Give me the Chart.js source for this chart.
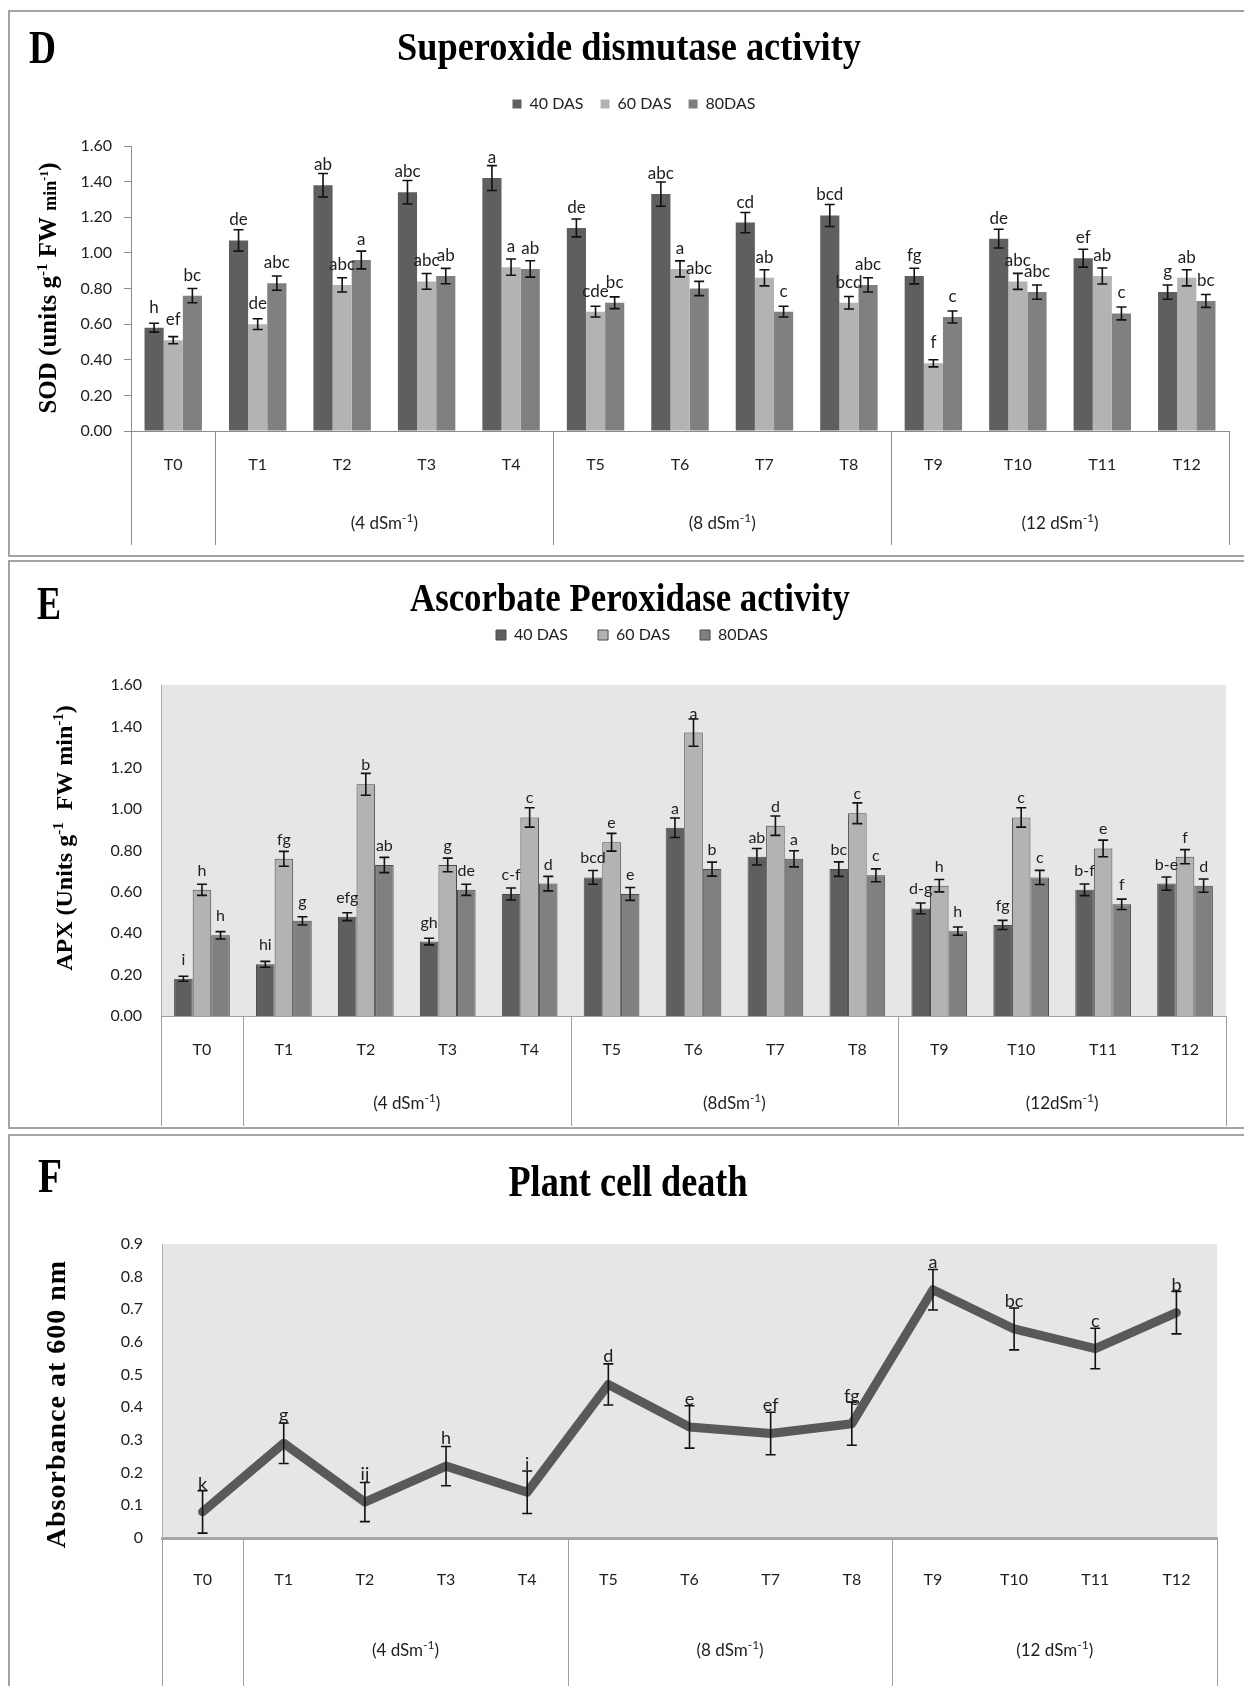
<!DOCTYPE html>
<html><head><meta charset="utf-8">
<script src="https://cdn.jsdelivr.net/npm/chart.js@4.4.1/dist/chart.umd.min.js"></script>
<style>
html,body{margin:0;padding:0;background:#fff;}
body{width:1244px;height:1686px;position:relative;overflow:hidden;}
.frame{position:absolute;border:2px solid #a3a3a3;box-sizing:border-box;}
canvas{position:absolute;left:0;}
</style></head><body>
<div class="frame" style="left:8px;top:10px;width:1240px;height:547px"></div>
<div class="frame" style="left:8px;top:560px;width:1240px;height:569px"></div>
<div class="frame" style="left:8px;top:1134px;width:1240px;height:570px"></div>
<canvas id="cD" width="1244" height="545" style="top:11px"></canvas>
<canvas id="cE" width="1244" height="566" style="top:562px"></canvas>
<canvas id="cF" width="1244" height="550" style="top:1136px"></canvas>
<script>
// ---------------- DATA ----------------
const categories = ['T0','T1','T2','T3','T4','T5','T6','T7','T8','T9','T10','T11','T12'];
const seriesNames = ['40 DAS','60 DAS','80DAS'];
const groupNamesD = ['(4 dSm','(8 dSm','(12 dSm'];
const groupNamesE = ['(4 dSm','(8dSm','(12dSm'];
const groupNamesF = ['(4 dSm','(8 dSm','(12 dSm'];
const groupSup = '-1';
const groupBounds = [0,1,5,9,13];

// Superoxide dismutase (SOD)
const sod40 = [0.58,1.07,1.38,1.34,1.42,1.14,1.33,1.17,1.21,0.87,1.08,0.97,0.78];
const sod60 = [0.51,0.60,0.82,0.84,0.92,0.67,0.91,0.86,0.72,0.38,0.84,0.87,0.86];
const sod80 = [0.76,0.83,0.96,0.87,0.91,0.72,0.80,0.67,0.82,0.64,0.78,0.66,0.73];
const sodErr40 = [0.025,0.06,0.066,0.066,0.07,0.05,0.068,0.057,0.062,0.044,0.053,0.05,0.04];
const sodErr60 = [0.02,0.03,0.04,0.044,0.046,0.03,0.045,0.045,0.035,0.02,0.045,0.045,0.045];
const sodErr80 = [0.04,0.04,0.05,0.043,0.046,0.033,0.04,0.03,0.04,0.034,0.04,0.036,0.036];
const sodLet40 = ['h','de','ab','abc','a','de','abc','cd','bcd','fg','de','ef','g'];
const sodLet60 = ['ef','de','abc','abc','a','cde','a','ab','bcd','f','abc','ab','ab'];
const sodLet80 = ['bc','abc','a','ab','ab','bc','abc','c','abc','c','abc','c','bc'];

// Ascorbate peroxidase (APX)
const apx40 = [0.18,0.25,0.48,0.36,0.59,0.67,0.91,0.77,0.71,0.52,0.44,0.61,0.64];
const apx60 = [0.61,0.76,1.12,0.73,0.96,0.84,1.37,0.92,0.98,0.63,0.96,0.81,0.77];
const apx80 = [0.39,0.46,0.73,0.61,0.64,0.59,0.71,0.76,0.68,0.41,0.67,0.54,0.63];
const apxErr40 = [0.012,0.014,0.019,0.016,0.029,0.033,0.047,0.04,0.035,0.026,0.022,0.028,0.032];
const apxErr60 = [0.027,0.036,0.053,0.033,0.047,0.043,0.066,0.047,0.05,0.03,0.047,0.04,0.034];
const apxErr80 = [0.018,0.02,0.037,0.027,0.035,0.031,0.034,0.039,0.031,0.02,0.034,0.025,0.032];
const apxLet40 = ['i','hi','efg','gh','c-f','bcd','a','ab','bc','d-g','fg','b-f','b-e'];
const apxLet60 = ['h','fg','b','g','c','e','a','d','c','h','c','e','f'];
const apxLet80 = ['h','g','ab','de','d','e','b','a','c','h','c','f','d'];

// Plant cell death
const death = [0.08,0.29,0.11,0.22,0.14,0.47,0.34,0.32,0.35,0.76,0.64,0.58,0.69];
const deathErr = [0.065,0.062,0.06,0.06,0.065,0.063,0.065,0.065,0.066,0.062,0.064,0.062,0.065];
const deathLet = ['k','g','ij','h','i','d','e','ef','fg','a','bc','c','b'];

// ---------------- STYLE ----------------
const SERIF = '"Liberation Serif","Times New Roman",serif';
const SANS = 'Lato,"Liberation Sans",sans-serif';
const barColors = ['#5f5f5f','#b3b3b3','#808080'];
const TXT = '#1e1e1e';

function drawRich(ctx, segs, x, y) {
  let cx = x;
  for (const s of segs) { ctx.font = s.f; ctx.fillText(s.t, cx, y + (s.dy || 0)); cx += ctx.measureText(s.t).width; }
}
function richWidth(ctx, segs) {
  let w = 0; for (const s of segs) { ctx.font = s.f; w += ctx.measureText(s.t).width; } return w;
}
function drawCondensed(ctx, text, font, x, y, w, align) {
  ctx.save(); ctx.font = font; ctx.textBaseline = 'alphabetic'; ctx.textAlign = 'left';
  const mw = ctx.measureText(text).width; const sx = w / mw;
  ctx.translate(align === 'center' ? x - w / 2 : x, y); ctx.scale(sx, 1);
  ctx.fillText(text, 0, 0); ctx.restore();
}

function makePanel(cfg) {
  return {
    id: 'panel',
    beforeLayout(chart) {
      if (cfg.legendHeight && chart.legend && !chart.legend._patched) {
        const lg = chart.legend, orig = lg.fit;
        lg.fit = function () { orig.call(this); this.height = cfg.legendHeight; };
        lg._patched = true;
      }
    },
    afterLayout(chart) {
      if (cfg.legendCenter && chart.legend) {
        const lg = chart.legend; const dx = cfg.legendCenter - (lg.left + lg.right) / 2;
        lg.left += dx; lg.right += dx;
      }
    },
    beforeDraw(chart) {
      if (cfg.plotBg) {
        const a = chart.chartArea, ctx = chart.ctx;
        ctx.save(); ctx.fillStyle = cfg.plotBg; ctx.fillRect(a.left, a.top, a.right - a.left, a.bottom - a.top); ctx.restore();
      }
    },
    afterDatasetsDraw(chart) {
      const ctx = chart.ctx, ys = chart.scales.y;
      ctx.save();
      cfg.series.forEach((s, i) => {
        const meta = chart.getDatasetMeta(i);
        meta.data.forEach((el, j) => {
          const v = s.values[j], e = s.errors[j], x = el.x;
          const yt = ys.getPixelForValue(v + e), yb = ys.getPixelForValue(v - e);
          ctx.strokeStyle = '#111'; ctx.lineWidth = cfg.errWidth;
          ctx.beginPath();
          ctx.moveTo(x, yt); ctx.lineTo(x, yb);
          ctx.moveTo(x - cfg.cap, yt); ctx.lineTo(x + cfg.cap, yt);
          ctx.moveTo(x - cfg.cap, yb); ctx.lineTo(x + cfg.cap, yb);
          ctx.stroke();
        });
      });
      cfg.series.forEach((s, i) => {
        const meta = chart.getDatasetMeta(i);
        meta.data.forEach((el, j) => {
          ctx.font = cfg.letterFont; ctx.fillStyle = TXT; ctx.textAlign = 'center'; ctx.textBaseline = 'alphabetic';
          ctx.fillText(s.letters[j], el.x, ys.getPixelForValue(s.values[j]) - cfg.letterGap);
        });
      });
      ctx.restore();
    },
    afterDraw(chart) {
      const ctx = chart.ctx, a = chart.chartArea, xs = chart.scales.x;
      const n = categories.length;
      const bx = k => k === 0 ? xs.left : (k === n ? xs.right : (xs.getPixelForValue(k - 1) + xs.getPixelForValue(k)) / 2);
      ctx.save();
      // group separators
      ctx.strokeStyle = cfg.sepColor; ctx.lineWidth = 1;
      groupBounds.forEach(k => {
        const x = Math.round(bx(k)) + 0.5;
        ctx.beginPath(); ctx.moveTo(x, a.bottom); ctx.lineTo(x, a.bottom + cfg.sepLen); ctx.stroke();
      });
      // group labels
      ctx.fillStyle = TXT; ctx.textAlign = 'left'; ctx.textBaseline = 'alphabetic';
      cfg.groups.forEach((g, i) => {
        const cx = (bx(groupBounds[i + 1]) + bx(groupBounds[i + 2])) / 2;
        const segs = [{t: g, f: '17px ' + SANS}, {t: groupSup, f: '12px ' + SANS, dy: -7}, {t: ')', f: '17px ' + SANS}];
        const w = richWidth(ctx, segs);
        drawRich(ctx, segs, cx - w / 2, a.bottom + cfg.groupDy + 6);
      });
      // y-axis title (rotated)
      const yt = cfg.yTitle;
      ctx.save();
      ctx.translate(yt.x + yt.size * 0.33, yt.y); ctx.rotate(-Math.PI / 2);
      ctx.fillStyle = '#000';
      if (yt.spacing) ctx.letterSpacing = yt.spacing + 'px';
      const w = richWidth(ctx, yt.segs);
      drawRich(ctx, yt.segs, -w / 2, 0);
      ctx.restore();
      // panel letter and title
      ctx.fillStyle = '#000';
      drawCondensed(ctx, cfg.letter.t, cfg.letter.f, cfg.letter.x, cfg.letter.y, cfg.letter.w, 'left');
      drawCondensed(ctx, cfg.title.t, cfg.title.f, cfg.title.cx, cfg.title.y, cfg.title.w, 'center');
      ctx.restore();
    }
  };
}

function barDatasets(vals, border) {
  return vals.map((v, i) => ({
    label: seriesNames[i], data: v, backgroundColor: barColors[i],
    borderColor: border ? '#4a4a4a' : barColors[i], borderWidth: border ? 1 : 0,
    categoryPercentage: 0.68, barPercentage: 1
  }));
}

const bold = (s) => 'bold ' + s + 'px ' + SERIF;

// ---------------- PANEL D ----------------
new Chart(document.getElementById('cD'), {
  type: 'bar',
  data: {labels: categories, datasets: barDatasets([sod40, sod60, sod80], false)},
  options: {
    responsive: false, animation: false, devicePixelRatio: 1,
    layout: {padding: {left: 61, right: 15, top: 68, bottom: 11}},
    plugins: {
      legend: {display: true, position: 'top', labels: {font: {family: SANS, size: 16}, color: '#222', boxWidth: 9, boxHeight: 9, padding: 17}},
      tooltip: {enabled: false}
    },
    scales: {
      x: {grid: {display: false, drawTicks: false}, border: {display: true, color: '#8c8c8c'},
          ticks: {font: {family: SANS, size: 16}, color: TXT, padding: 24, maxRotation: 0, autoSkip: false},
          afterFit(s) { s.height = 114; }},
      y: {min: 0, max: 1.6,
          ticks: {stepSize: 0.2, callback: v => v.toFixed(2), font: {family: SANS, size: 16}, color: TXT, padding: 12},
          grid: {display: true, drawOnChartArea: false, drawTicks: true, tickLength: 7, color: '#8c8c8c'},
          border: {display: true, color: '#8c8c8c'},
          afterFit(s) { s.width = 70; }}
    }
  },
  plugins: [makePanel({
    legendHeight: 67, legendCenter: 634,
    series: [{values: sod40, errors: sodErr40, letters: sodLet40}, {values: sod60, errors: sodErr60, letters: sodLet60}, {values: sod80, errors: sodErr80, letters: sodLet80}],
    errWidth: 1.6, cap: 5, letterFont: '17px ' + SANS, letterGap: 15,
    sepColor: '#8c8c8c', sepLen: 114, groups: groupNamesD, groupDy: 92,
    yTitle: {x: 48, y: 277, size: 25, segs: [{t: 'SOD (units g', f: bold(25)}, {t: '-1', f: bold(15), dy: -9}, {t: ' FW ', f: bold(25)}, {t: 'min', f: bold(18)}, {t: '-1', f: bold(12), dy: -8}, {t: ')', f: bold(25)}]},
    letter: {t: 'D', f: bold(46), x: 29, y: 52, w: 27},
    title: {t: 'Superoxide dismutase activity', f: bold(41), cx: 629, y: 49, w: 464}
  })]
});

// ---------------- PANEL E ----------------
new Chart(document.getElementById('cE'), {
  type: 'bar',
  data: {labels: categories, datasets: barDatasets([apx40, apx60, apx80], true)},
  options: {
    responsive: false, animation: false, devicePixelRatio: 1,
    layout: {padding: {left: 91, right: 18, top: 35, bottom: 2}},
    plugins: {
      legend: {display: true, position: 'top', labels: {font: {family: SANS, size: 16}, color: '#222', boxWidth: 10, boxHeight: 10, padding: 30}},
      tooltip: {enabled: false}
    },
    scales: {
      x: {grid: {display: false, drawTicks: false}, border: {display: true, color: '#a0a0a0'},
          ticks: {font: {family: SANS, size: 16}, color: TXT, padding: 24, maxRotation: 0, autoSkip: false},
          afterFit(s) { s.height = 110; }},
      y: {min: 0, max: 1.6,
          ticks: {stepSize: 0.2, callback: v => v.toFixed(2), font: {family: SANS, size: 16}, color: TXT, padding: 19},
          grid: {display: false, drawTicks: false},
          border: {display: true, color: '#a8a8a8'},
          afterFit(s) { s.width = 70; }}
    }
  },
  plugins: [makePanel({
    legendHeight: 88, legendCenter: 632, plotBg: '#e6e6e6',
    series: [{values: apx40, errors: apxErr40, letters: apxLet40}, {values: apx60, errors: apxErr60, letters: apxLet60}, {values: apx80, errors: apxErr80, letters: apxLet80}],
    errWidth: 1.6, cap: 5, letterFont: '16px ' + SANS, letterGap: 14,
    sepColor: '#a0a0a0', sepLen: 110, groups: groupNamesE, groupDy: 87,
    yTitle: {x: 64, y: 276, size: 24, segs: [{t: 'APX (Units g', f: bold(24)}, {t: '-1', f: bold(15), dy: -9}, {t: '  FW min', f: bold(24)}, {t: '-1', f: bold(15), dy: -9}, {t: ')', f: bold(24)}]},
    letter: {t: 'E', f: bold(46), x: 37, y: 57, w: 24},
    title: {t: 'Ascorbate Peroxidase activity', f: bold(40), cx: 630, y: 49, w: 440}
  })]
});

// ---------------- PANEL F ----------------
new Chart(document.getElementById('cF'), {
  type: 'line',
  data: {labels: categories, datasets: [{label: 'Plant cell death', data: death, borderColor: '#595959', borderWidth: 9, pointRadius: 0, fill: false, tension: 0, borderJoinStyle: 'round', borderCapStyle: 'round'}]},
  options: {
    responsive: false, animation: false, devicePixelRatio: 1,
    layout: {padding: {left: 92, right: 27, top: 108, bottom: 0}},
    plugins: {legend: {display: false}, tooltip: {enabled: false}},
    scales: {
      x: {offset: true, grid: {display: false, drawTicks: false}, border: {display: true, color: '#a6a6a6', width: 3},
          ticks: {font: {family: SANS, size: 16}, color: TXT, padding: 32, maxRotation: 0, autoSkip: false},
          afterFit(s) { s.height = 148; }},
      y: {min: 0, max: 0.9,
          ticks: {stepSize: 0.1, callback: v => (Math.abs(v) < 1e-9 ? '0' : v.toFixed(1)), font: {family: SANS, size: 16}, color: TXT, padding: 19},
          grid: {display: false, drawTicks: false},
          border: {display: true, color: '#b0b0b0'},
          afterFit(s) { s.width = 70; }}
    }
  },
  plugins: [makePanel({
    plotBg: '#e6e6e6',
    series: [{values: death, errors: deathErr, letters: deathLet}],
    errWidth: 1.6, cap: 5, letterFont: '18px ' + SANS, letterGap: 22,
    sepColor: '#a0a0a0', sepLen: 148, groups: groupNamesF, groupDy: 112,
    yTitle: {x: 56, y: 268, size: 28, spacing: 1, segs: [{t: 'Absorbance at 600 nm', f: bold(28)}]},
    letter: {t: 'F', f: bold(48), x: 38, y: 56, w: 24},
    title: {t: 'Plant cell death', f: bold(45), cx: 628, y: 60, w: 239}
  })]
});
</script></body></html>
